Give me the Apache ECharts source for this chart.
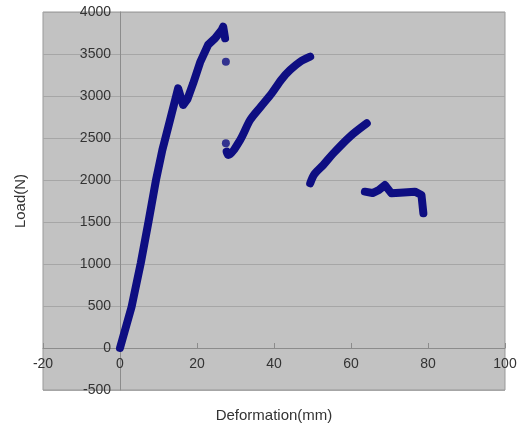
<!doctype html>
<html>
<head>
<meta charset="utf-8">
<title>Load - Deformation</title>
<script src="https://cdn.jsdelivr.net/npm/echarts@6/dist/echarts.min.js"></script>
<style>
  html, body { margin: 0; padding: 0; background: #fff; }
  #chart { width: 526px; height: 425px; }
</style>
</head>
<body>
<div id="chart"></div>
<script type="text/javascript">
// [deformation mm, load N]
var branch1 = [[0, 0], [3.0, 488], [5.4, 1012], [7.4, 1504], [9.35, 2000], [11.0, 2357], [13.0, 2714],
               [15.1, 3091], [16.4, 2893], [17.5, 2960], [19.0, 3150], [20.8, 3400], [22.9, 3610],
               [24.7, 3687], [26.4, 3786], [26.8, 3825], [27.3, 3687]];
var branch2 = [[27.7, 2337], [28.1, 2298], [31.2, 2476], [33.8, 2714], [36.5, 2870], [39.4, 3032],
               [42.0, 3200], [44.2, 3310], [46.8, 3408], [49.4, 3468]];
var branch3 = [[49.4, 1960], [50.5, 2070], [52.8, 2179], [55.4, 2317], [59.7, 2516], [64.1, 2675]];
var branch4 = [[63.6, 1861], [65.6, 1845], [67.2, 1880], [68.8, 1940], [70.5, 1841], [72.7, 1849],
               [76.6, 1861], [78.3, 1821], [78.8, 1603]];
var strayPoints = [[27.5, 3408], [27.5, 2437]];

var navy = '#0e0e82';
var fontName = 'Liberation Sans, Arial, sans-serif';
var labelFont = { color: '#333', fontSize: 14, fontFamily: fontName };

function curve(d, smooth) {
    return {
        type: 'line',
        data: d,
        smooth: smooth || false,
        showSymbol: false,
        silent: true,
        animation: false,
        lineStyle: { color: navy, width: 8, cap: 'round', join: 'round' }
    };
}

function plain(v) { return String(v); }

var option = {
    backgroundColor: '#fff',
    grid: {
        left: 43, right: 21, top: 12, bottom: 35,
        outerBoundsMode: 'none',
        containLabel: false,
        show: true,
        backgroundColor: '#c2c2c2',
        borderColor: '#999',
        borderWidth: 1
    },
    xAxis: {
        type: 'value',
        min: -20, max: 100, interval: 20,
        // axis drawn where load = 0 (42px above the bottom)
        offset: -42,
        name: 'Deformation(mm)',
        nameLocation: 'middle',
        nameGap: 60,
        nameTextStyle: { color: '#333', fontSize: 15, fontFamily: fontName },
        axisLine: { show: true, onZero: false, lineStyle: { color: '#8c8c8c', width: 1 } },
        axisTick: { show: true, inside: true, length: 5, lineStyle: { color: '#8c8c8c' } },
        axisLabel: Object.assign({ margin: 9, formatter: plain }, labelFont),
        splitLine: { show: false }
    },
    yAxis: {
        type: 'value',
        min: -500, max: 4000, interval: 500,
        // axis drawn where deformation = 0 (77px right of the left edge)
        offset: -77,
        name: 'Load(N)',
        nameLocation: 'middle',
        nameGap: 92,
        nameTextStyle: { color: '#333', fontSize: 15, fontFamily: fontName },
        axisLine: { show: true, onZero: false, lineStyle: { color: '#8c8c8c', width: 1 } },
        axisTick: { show: false },
        axisLabel: Object.assign({ margin: 9, formatter: plain }, labelFont),
        splitLine: { show: true, lineStyle: { color: '#a6a6a6', width: 1 } }
    },
    series: [
        curve(branch1),
        curve(branch2, 0.3),
        curve(branch3, 0.3),
        curve(branch4),
        {
            type: 'scatter',
            data: strayPoints,
            symbol: 'circle',
            symbolSize: 8,
            silent: true,
            animation: false,
            itemStyle: { color: navy }
        }
    ]
};

var myChart = echarts.init(document.getElementById('chart'));
myChart.setOption(option);
</script>
</body>
</html>
